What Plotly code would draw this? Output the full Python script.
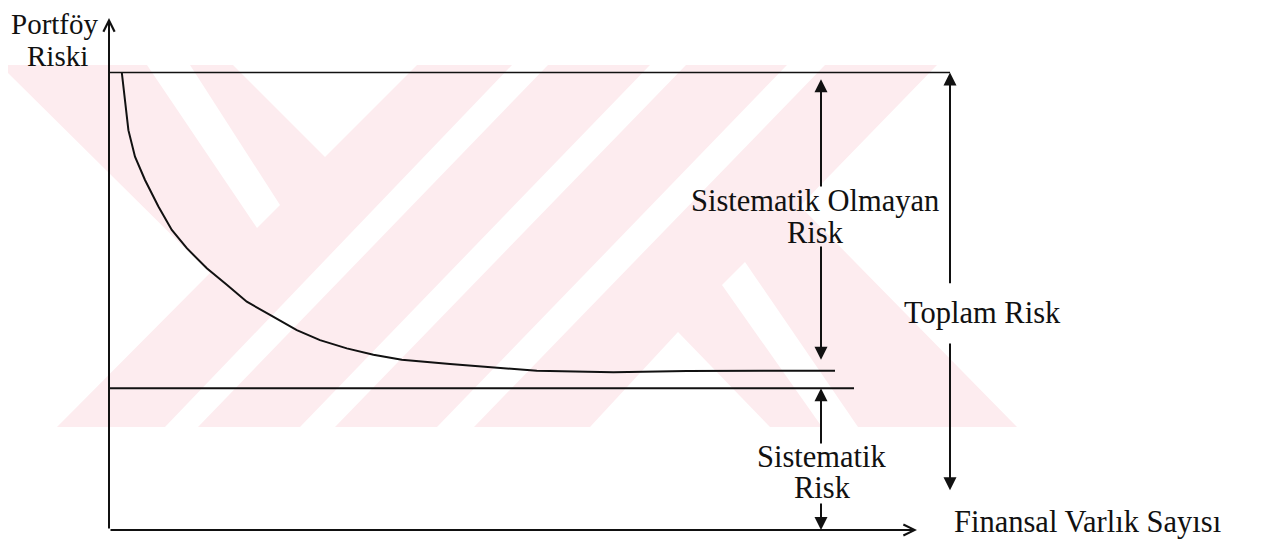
import plotly.graph_objects as go

# ---------------- data ----------------
# x: number of financial assets (arbitrary units), y: portfolio risk (total risk = 100)
asset_count = [0.64, 0.97, 1.30, 1.80, 2.47, 3.14, 3.89, 4.89, 5.89, 6.89, 8.05, 9.39,
               10.55, 11.89, 13.22, 14.64, 17.05, 18.89, 21.39, 25.22, 28.89, 33.05, 36.3]
portfolio_risk = [100.0, 87.4, 81.6, 76.5, 70.7, 65.6, 61.6, 57.2, 53.6, 49.9, 47.0, 43.7,
                  41.5, 39.7, 38.3, 37.2, 36.3, 35.7, 34.8, 34.5, 34.75, 34.8, 34.8]
total_risk = 100.0
systematic_risk = 31.0
total_line_end = [0, 42.05]
systematic_line_end = [0, 37.25]
x_axis_end = 40.4
y_axis_end = 111.9

# range arrows: (x, tail y, head y)
arrow_x_mid = 35.6
arrow_x_total = 42.05
range_arrows = [
    (arrow_x_mid, 74.75, 98.5),
    (arrow_x_mid, 62.3, 37.2),
    (arrow_x_mid, 18.6, systematic_risk),
    (arrow_x_mid, 6.1, 0.0),
    (arrow_x_total, 53.6, total_risk),
    (arrow_x_total, 41.1, 8.7),
]

# ---------------- styling ----------------
PAGE_W, PAGE_H, BODY_MARGIN = 1264, 548, 8
W, H = PAGE_W - 2 * BODY_MARGIN, PAGE_H - 2 * BODY_MARGIN
FONT = "Liberation Serif, Times New Roman, Times, serif"
INK = "#111111"
PINK = "#fdecef"

fig = go.Figure()

fig.add_trace(go.Scatter(x=asset_count, y=portfolio_risk, mode="lines",
                         line=dict(color=INK, width=2), hoverinfo="skip"))
fig.add_trace(go.Scatter(x=total_line_end, y=[total_risk, total_risk], mode="lines",
                         line=dict(color=INK, width=1.6), hoverinfo="skip"))
fig.add_trace(go.Scatter(x=systematic_line_end, y=[systematic_risk, systematic_risk], mode="lines",
                         line=dict(color=INK, width=2), hoverinfo="skip"))

annotations = []
# axes with open arrowheads
annotations.append(dict(x=x_axis_end, y=0, ax=0, ay=0, xref="x", yref="y", axref="x", ayref="y",
                        text="", showarrow=True, arrowhead=5, arrowsize=1.1, arrowwidth=2,
                        arrowcolor=INK, standoff=0))
annotations.append(dict(x=0, y=y_axis_end, ax=0, ay=0, xref="x", yref="y", axref="x", ayref="y",
                        text="", showarrow=True, arrowhead=5, arrowsize=1.1, arrowwidth=2,
                        arrowcolor=INK, standoff=0))
for ax_, yt, yh in range_arrows:
    annotations.append(dict(x=ax_, y=yh, ax=ax_, ay=yt, xref="x", yref="y", axref="x", ayref="y",
                            text="", showarrow=True, arrowhead=2, arrowsize=1.3, arrowwidth=2,
                            arrowcolor=INK, standoff=0))

labels = [
    ("Portföy", -2.7, 110.6, 29),
    ("Riski", -2.6, 103.5, 29),
    ("Sistematik Olmayan", 35.3, 71.9, 30.5),
    ("Risk", 35.3, 64.9, 30.5),
    ("Toplam Risk", 43.65, 47.4, 30.5),
    ("Sistematik", 35.65, 15.85, 30.5),
    ("Risk", 35.65, 9.2, 30.5),
    ("Finansal Varlık Sayısı", 48.9, 1.75, 30.5),
]
for t, x, y, fs in labels:
    annotations.append(dict(x=x, y=y, xref="x", yref="y", text=t, showarrow=False,
                            xanchor="center", yanchor="middle",
                            font=dict(family=FONT, size=fs, color=INK)))

# ---------------- background watermark (decoration, page-pixel polygons) ----------------
def poly(points):
    return "M " + " L ".join(
        f"{(px - BODY_MARGIN) / W:.5f},{1 - (py - BODY_MARGIN) / H:.5f}" for px, py in points) + " Z"

wm_base = [(0, 65), (937, 65), (800, 206), (1017, 427), (57, 427), (210, 273)]
wm_holes = [
    [(233, 65), (325, 157), (417, 65)],
    [(147, 65), (190, 65), (280, 205), (257, 228)],
    [(165, 427), (198, 427), (548, 65), (512, 65)],
    [(300, 427), (335, 427), (686, 65), (650, 65)],
    [(437, 427), (474, 427), (825, 65), (787, 65)],
    [(590, 427), (678, 332), (770, 427)],
    [(722, 285), (745, 262), (858, 427), (822, 427)],
]
shapes = [dict(type="path", path=poly(wm_base), xref="paper", yref="paper",
               fillcolor=PINK, line=dict(width=0), layer="below")]
for h in wm_holes:
    shapes.append(dict(type="path", path=poly(h), xref="paper", yref="paper",
                       fillcolor="white", line=dict(width=0), layer="below"))

# data <-> page pixel mapping: x = (px - 109) / 20, y = (530 - py) / 4.575
x_lo = (BODY_MARGIN - 109) / 20
x_hi = (BODY_MARGIN + W - 109) / 20
y_hi = (530 - BODY_MARGIN) / 4.575
y_lo = (530 - (BODY_MARGIN + H)) / 4.575

fig.update_layout(
    width=W, height=H,
    margin=dict(l=0, r=0, t=0, b=0),
    paper_bgcolor="white", plot_bgcolor="white",
    showlegend=False,
    xaxis=dict(range=[x_lo, x_hi], visible=False, fixedrange=True),
    yaxis=dict(range=[y_lo, y_hi], visible=False, fixedrange=True),
    annotations=annotations,
    shapes=shapes,
)

fig.write_html("out.html")
